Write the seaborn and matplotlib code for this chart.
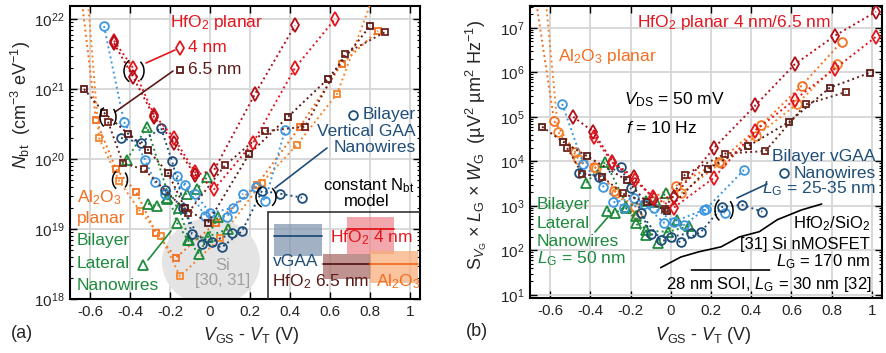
import numpy as np
import pandas as pd
import matplotlib
matplotlib.use("Agg")
import matplotlib.pyplot as plt
import seaborn as sns
from matplotlib.patches import Rectangle, Arc, Ellipse
from matplotlib.ticker import FixedLocator, LogLocator, NullFormatter, NullLocator

# ---------------- data ----------------
xtick_vals = [-0.6, -0.4, -0.2, 0, 0.2, 0.4, 0.6, 0.8, 1.0]
xtick_labels = ['-0.6', '-0.4', '-0.2', '0', '0.2', '0.4', '0.6', '0.8', '1']

# panel (a): Nbt (cm^-3 eV^-1) vs VGS-VT (V)
a_hf4_A_x = [-0.48, -0.385, -0.28, -0.18, -0.075, 0.02, 0.215, 0.425, 0.625]
a_hf4_A_y = [4.9e21, 2.0e21, 4.3e20, 2.0e20, 6.5e19, 3.7e19, 1.7e20, 2.0e21, 1.0e22]
a_hf4_B_x = [-0.48, -0.385, -0.28, -0.18, -0.075, 0.02, 0.225, 0.425]
a_hf4_B_y = [4.5e21, 1.5e21, 4.0e20, 1.7e20, 5.9e19, 6.9e19, 8.5e20, 8.1e21]
a_hf65_A_x = [-0.63, -0.53, -0.41, -0.31, -0.21, -0.125, -0.01, 0.195, 0.39, 0.59, 0.8]
a_hf65_A_y = [1.0e21, 4.6e20, 2.3e20, 1.35e20, 6.3e19, 2.0e19, 1.23e19, 1.17e20, 4.0e20, 1.4e21, 7.9e21]
a_hf65_B_x = [-0.51, -0.435, -0.33, -0.11, 0.075, 0.275, 0.475, 0.675, 0.875]
a_hf65_B_y = [3.4e20, 8.7e19, 7.1e19, 1.7e19, 8.1e19, 2.5e20, 2.9e20, 3.2e21, 6.5e21]
a_al_A_x = [-0.655, -0.57, -0.47, -0.37, -0.27, -0.17, 0.03, 0.235, 0.45, 0.66, 0.84]
a_al_A_y = [4.0e22, 3.6e20, 7.2e19, 3.4e19, 8.7e18, 3.9e18, 1.23e19, 4.3e19, 2.9e20, 2.3e21, 6.8e21]
a_al_B_x = [-0.62, -0.555, -0.455, -0.35, -0.245, -0.15, 0.05, 0.26, 0.435, 0.635, 0.84]
a_al_B_y = [4.0e22, 2.0e20, 4.9e19, 1.8e19, 7.9e18, 2.1e18, 7.4e18, 4.6e19, 1.6e20, 8.5e20, 3.2e22]
a_lat_A_x = [-0.415, -0.315, -0.165, -0.11, -0.055, 0.04]
a_lat_A_y = [9.8e19, 2.9e20, 1.23e19, 6.9e18, 4.4e18, 1.5e19]
a_lat_B_x = [-0.31, -0.265, -0.215, -0.115, -0.065, -0.015]
a_lat_B_y = [2.3e19, 2.1e19, 2.8e19, 3.2e19, 3.7e19, 5.5e19]
a_lat_C_x = [-0.215, -0.155, -0.105, -0.01, 0.09]
a_lat_C_y = [2.7e19, 2.0e19, 6.9e18, 7.8e18, 1.0e19]
a_vg_A_x = [-0.445, -0.345, -0.245, -0.19, -0.09, 0.01, 0.11]
a_vg_A_y = [2.0e20, 1.7e20, 2.8e20, 9.3e19, 8.5e18, 6.5e18, 8.7e18]
a_vg_B_x = [-0.225, -0.135, -0.04, 0.06, 0.16, 0.26, 0.35, 0.46]
a_vg_B_y = [3.6e19, 2.0e19, 6.2e18, 5.5e18, 9.3e18, 3.5e19, 3.2e19, 2.8e19]
a_lb_A_x = [-0.53, -0.43, -0.325, -0.275, -0.225, -0.125, -0.025, 0.085, 0.165]
a_lb_A_y = [7.9e21, 3.4e20, 9.8e19, 4.7e19, 3.2e19, 4.3e19, 1.55e19, 1.5e19, 3.2e19]
a_lb_B_x = [-0.165, -0.075, 0.0, 0.115, 0.23, 0.275, 0.375]
a_lb_B_y = [5.8e19, 3.2e19, 1.7e19, 2.0e19, 4.0e19, 2.5e19, 2.6e20]

# constant-Nbt model boxes (inset of panel a)
model_v_lo = [0.32, 0.685, 0.565, 0.80]
model_v_hi = [0.56, 0.92, 0.805, 1.04]
model_nbt = [7.9e18, 1.0e19, 3.2e18, 3.2e18]
model_nbt_lo = [4.1e18, 4.4e18, 1.9e18, 1.7e18]
model_nbt_hi = [1.17e19, 1.5e19, 4.4e18, 4.9e18]

# panel (b): S_VG*LG*WG (uV^2 um^2 Hz^-1)
b_hf4_A_x = [-0.485, -0.385, -0.29, -0.185, -0.085, 0.015, 0.215, 0.42, 0.615, 0.815, 1.02]
b_hf4_A_y = [1.0e5, 4.6e4, 9.8e3, 4.5e3, 1.45e3, 1.6e3, 2.0e4, 1.8e5, 1.5e6, 6.6e6, 2.3e7]
b_hf4_B_x = [-0.38, -0.29, -0.18, -0.09, 0.015, 0.215, 0.42, 0.615, 0.815, 1.02]
b_hf4_B_y = [3.5e4, 9.3e3, 3.8e3, 1.6e3, 9.1e2, 4.3e3, 4.9e4, 2.4e5, 1.2e6, 6.3e6]
b_hf65_A_x = [-0.64, -0.535, -0.415, -0.22, -0.12, -0.02, 0.185, 0.385, 0.59, 0.79, 0.99]
b_hf65_A_y = [6.0e4, 2.75e4, 1.3e4, 3.8e3, 1.2e3, 7.8e2, 6.8e3, 2.2e4, 7.8e4, 4.5e5, 9.8e5]
b_hf65_B_x = [-0.515, -0.44, -0.34, -0.24, -0.03, 0.07, 0.27, 0.47, 0.67, 0.87]
b_hf65_B_y = [2.0e4, 5.2e3, 4.5e3, 1.9e3, 8.5e2, 5.0e3, 1.5e4, 1.7e4, 1.9e5, 3.6e5]
b_al_A_x = [-0.7, -0.58, -0.475, -0.38, -0.28, -0.18, 0.025, 0.24, 0.45, 0.65, 0.85]
b_al_A_y = [3.2e8, 8.1e4, 1.6e4, 7.6e3, 2.2e3, 9.5e2, 2.8e3, 9.8e3, 6.6e4, 5.0e5, 4.9e6]
b_al_B_x = [-0.64, -0.56, -0.46, -0.37, -0.27, -0.17, 0.05, 0.25, 0.425, 0.625, 0.825]
b_al_B_y = [3.2e8, 4.6e4, 1.15e4, 7.1e3, 1.9e3, 6.3e2, 1.9e3, 9.3e3, 3.7e4, 1.9e5, 1.5e6]
b_lb_A_x = [-0.54, -0.435, -0.335, -0.235, -0.135, -0.035, 0.065, 0.165, 0.27]
b_lb_A_y = [1.95e5, 8.7e3, 2.7e3, 9.1e2, 1.1e3, 4.2e2, 3.7e2, 8.1e2, 6.9e2]
b_lb_B_x = [-0.285, -0.185, -0.085, 0.015, 0.175, 0.365]
b_lb_B_y = [1.2e3, 1.5e3, 9.1e2, 4.4e2, 8.5e2, 6.5e3]
b_vg_A_x = [-0.455, -0.355, -0.25, -0.2, -0.1, 0.0, 0.1]
b_vg_A_y = [5.5e3, 4.5e3, 7.6e3, 2.5e3, 2.3e2, 2.0e2, 2.5e2]
b_vg_B_x = [-0.15, -0.05, 0.05, 0.15, 0.255, 0.355, 0.455]
b_vg_B_y = [6.9e2, 1.7e2, 1.55e2, 2.6e2, 9.5e2, 1.05e3, 7.4e2]
b_lat_A_x = [-0.42, -0.325, -0.175, -0.125, -0.065, 0.03]
b_lat_A_y = [3.3e3, 9.8e3, 4.2e2, 2.2e2, 1.5e2, 4.9e2]
b_lat_B_x = [-0.315, -0.275, -0.225, -0.125, -0.075, -0.025]
b_lat_B_y = [7.8e2, 6.9e2, 9.5e2, 1.3e3, 1.2e3, 1.9e3]
b_lat_C_x = [-0.225, -0.175, -0.125, -0.015, 0.09]
b_lat_C_y = [8.9e2, 5.8e2, 2.8e2, 2.6e2, 3.5e2]
ref31_x = [-0.05, 0.05, 0.14, 0.25, 0.34, 0.44, 0.53, 0.65, 0.75]
ref31_y = [41, 71, 93, 120, 200, 263, 490, 810, 1100]
soi_x = [0.095, 0.5]
soi_y = [36, 36]

# ---------------- style ----------------
sns.set_theme(style="ticks")
plt.rcParams['font.family'] = ['Liberation Sans', 'DejaVu Sans']
plt.rcParams.update({
    'mathtext.fontset': 'custom',
    'mathtext.rm': 'Liberation Sans',
    'mathtext.it': 'Liberation Sans:italic',
    'mathtext.bf': 'Liberation Sans:bold',
    'mathtext.sf': 'Liberation Sans',
    'axes.unicode_minus': False,
})

RED = '#e3161e'
DRED = '#b0101a'
MAROON = '#5a1a18'
MAROON2 = '#6e241c'
ORANGE = '#f26f21'
ORANGE2 = '#f5852c'
GREEN = '#1e8a3c'
DBLUE = '#1f4e79'
LBLUE = '#3d96e0'

MS = {'o': 6.3, 's': 4.8, 'd': 6.8, '^': 6.8}

fig = plt.figure(figsize=(8.86, 3.53), dpi=100)
W, H = 886, 353
BOX_A = (70, 6, 420, 299)
BOX_B = (530, 6, 882, 298)


def make_ax(box):
    l, t, r, b = box
    return fig.add_axes([l / W, (H - b) / H, (r - l) / W, (b - t) / H])


axA = make_ax(BOX_A)
axB = make_ax(BOX_B)


def series(ax, x, y, color, marker):
    sns.lineplot(x=x, y=y, ax=ax, color=color, marker=marker, linestyle=':',
                 lw=1.4, sort=False, estimator=None, markersize=MS[marker],
                 markerfacecolor='none', markeredgecolor=color,
                 markeredgewidth=1.3, zorder=3)


def pfrac(box, px, py):
    l, t, r, b = box
    return ((px - l) / (r - l), (b - py) / (b - t))


def txt(ax, box, px, py, s, color, ha='left', size=12):
    fx, fy = pfrac(box, px, py)
    ax.text(fx, fy, s, color=color, ha=ha, va='center', fontsize=size,
            transform=ax.transAxes, zorder=7)


def key(ax, box, px, py, marker, color):
    fx, fy = pfrac(box, px, py)
    ax.plot([fx], [fy], marker=marker, ms=MS[marker], mfc='none', mec=color,
            mew=1.3, transform=ax.transAxes, clip_on=False, zorder=7)


def seg(ax, box, p1, p2, color):
    f1 = pfrac(box, *p1)
    f2 = pfrac(box, *p2)
    ax.plot([f1[0], f2[0]], [f1[1], f2[1]], color=color, lw=1.2,
            transform=ax.transAxes, zorder=6)


def paren(ax, box, px, py, wpx, hpx):
    l, t, r, b = box
    fx, fy = pfrac(box, px, py)
    w = wpx / (r - l)
    h = hpx / (b - t)
    for th1, th2 in [(110, 250), (-60, 60)]:
        ax.add_patch(Arc((fx, fy), w, h, theta1=th1, theta2=th2,
                         transform=ax.transAxes, color='black', lw=1.1, zorder=6))


def style_axis(ax, ylim, ymajors):
    ax.set_yscale('log')
    ax.set_xlim(-0.7, 1.05)
    ax.set_ylim(*ylim)
    ax.xaxis.set_major_locator(FixedLocator(xtick_vals))
    ax.set_xticklabels(xtick_labels)
    ax.xaxis.set_minor_locator(NullLocator())
    ax.yaxis.set_major_locator(FixedLocator(ymajors))
    ax.yaxis.set_minor_locator(LogLocator(base=10, subs=np.arange(2, 10), numticks=20))
    ax.yaxis.set_minor_formatter(NullFormatter())
    ax.grid(True, which='major', color='#d6d6d6', lw=1.3)
    ax.set_axisbelow(True)
    ax.tick_params(which='both', direction='in', top=True, right=True,
                   bottom=True, left=True, labelsize=11, color='black', pad=4)
    ax.tick_params(which='major', length=5, width=1.0)
    ax.tick_params(which='minor', length=2.5, width=0.8)
    for s in ax.spines.values():
        s.set_color('black')
        s.set_linewidth(1.5)
    ax.set_xlabel('')
    ax.set_ylabel('')


# ---------------- panel (a) ----------------
axA.set_xlim(-0.7, 1.05)
axA.add_patch(Ellipse(pfrac(BOX_A, 211, 262), 98 / 350, 88 / 293,
                      transform=axA.transAxes, color='#e4e4e4', zorder=1, lw=0))

series(axA, a_al_A_x, a_al_A_y, ORANGE, 's')
series(axA, a_al_B_x, a_al_B_y, ORANGE2, 's')
series(axA, a_lat_A_x, a_lat_A_y, GREEN, '^')
series(axA, a_lat_B_x, a_lat_B_y, GREEN, '^')
series(axA, a_lat_C_x, a_lat_C_y, GREEN, '^')
series(axA, a_lb_A_x, a_lb_A_y, LBLUE, 'o')
series(axA, a_lb_B_x, a_lb_B_y, LBLUE, 'o')
series(axA, a_vg_A_x, a_vg_A_y, DBLUE, 'o')
series(axA, a_vg_B_x, a_vg_B_y, DBLUE, 'o')
series(axA, a_hf65_A_x, a_hf65_A_y, MAROON, 's')
series(axA, a_hf65_B_x, a_hf65_B_y, MAROON2, 's')
series(axA, a_hf4_A_x, a_hf4_A_y, RED, 'd')
series(axA, a_hf4_B_x, a_hf4_B_y, DRED, 'd')

style_axis(axA, (1e18, 10 ** 22.186), [1e18, 1e19, 1e20, 1e21, 1e22])

# constant Nbt model boxes
box_fill = ['#7e95ae', '#ee868c', '#a86a66', '#f7ad78']
box_line = [DBLUE, RED, MAROON, ORANGE]
for lo, hi, c, b0, b1, fc, lc in zip(model_v_lo, model_v_hi, model_nbt,
                                      model_nbt_lo, model_nbt_hi, box_fill, box_line):
    axA.add_patch(Rectangle((lo, b0), hi - lo, b1 - b0, facecolor=fc,
                            edgecolor='none', alpha=0.72, zorder=4))
    axA.plot([lo, hi], [c, c], color=lc, lw=1.3, zorder=5)

seg(axA, BOX_A, (268, 212), (420, 212), '#333333')
seg(axA, BOX_A, (268, 212), (268, 299), '#333333')

txt(axA, BOX_A, 170, 23, 'HfO$_2$ planar', RED, size=12.5)
key(axA, BOX_A, 180, 48, 'd', RED)
txt(axA, BOX_A, 188, 47, '4 nm', RED, size=12.5)
key(axA, BOX_A, 180, 70, 's', MAROON)
txt(axA, BOX_A, 188, 69, '6.5 nm', MAROON, size=12.5)
seg(axA, BOX_A, (146, 63), (175, 50), RED)
seg(axA, BOX_A, (115, 112), (173, 71), MAROON)
paren(axA, BOX_A, 134, 71, 20, 24)
paren(axA, BOX_A, 108, 117, 16, 22)
paren(axA, BOX_A, 120, 180, 15, 20)

txt(axA, BOX_A, 77, 198, 'Al$_2$O$_3$', ORANGE, size=12.5)
txt(axA, BOX_A, 77, 218, 'planar', ORANGE, size=12.5)

txt(axA, BOX_A, 77, 241, 'Bilayer', GREEN, size=12.5)
txt(axA, BOX_A, 77, 263, 'Lateral', GREEN, size=12.5)
txt(axA, BOX_A, 77, 285, 'Nanowires', GREEN, size=12.5)
key(axA, BOX_A, 143, 265, '^', GREEN)
seg(axA, BOX_A, (148, 260), (171, 231), GREEN)

txt(axA, BOX_A, 223, 265, 'Si', '#a0a0a0', ha='center', size=12)
txt(axA, BOX_A, 223, 281, '[30, 31]', '#a0a0a0', ha='center', size=12)

key(axA, BOX_A, 353, 115, 'o', DBLUE)
txt(axA, BOX_A, 416, 115, 'Bilayer', DBLUE, ha='right', size=12.5)
txt(axA, BOX_A, 416, 132, 'Vertical GAA', DBLUE, ha='right', size=12.5)
txt(axA, BOX_A, 416, 147, 'Nanowires', DBLUE, ha='right', size=12.5)
seg(axA, BOX_A, (327, 148), (275, 188), DBLUE)
paren(axA, BOX_A, 266, 197, 20, 22)

txt(axA, BOX_A, 414, 186, 'constant N$_{\\rm bt}$', 'black', ha='right', size=12)
txt(axA, BOX_A, 367, 202, 'model', 'black', ha='center', size=12)
txt(axA, BOX_A, 330, 238, 'HfO$_2$ 4 nm', RED, size=12.5)
txt(axA, BOX_A, 273, 262, 'vGAA', DBLUE, size=12.5)
txt(axA, BOX_A, 272, 282, 'HfO$_2$ 6.5 nm', MAROON, size=12.5)
txt(axA, BOX_A, 376, 282, 'Al$_2$O$_3$', ORANGE, size=12.5)

# ---------------- panel (b) ----------------
series(axB, b_al_A_x, b_al_A_y, ORANGE, 'o')
series(axB, b_al_B_x, b_al_B_y, ORANGE2, 'o')
series(axB, b_lat_A_x, b_lat_A_y, GREEN, '^')
series(axB, b_lat_B_x, b_lat_B_y, GREEN, '^')
series(axB, b_lat_C_x, b_lat_C_y, GREEN, '^')
series(axB, b_lb_A_x, b_lb_A_y, LBLUE, 'o')
series(axB, b_lb_B_x, b_lb_B_y, LBLUE, 'o')
series(axB, b_vg_A_x, b_vg_A_y, DBLUE, 'o')
series(axB, b_vg_B_x, b_vg_B_y, DBLUE, 'o')
series(axB, b_hf65_A_x, b_hf65_A_y, MAROON, 's')
series(axB, b_hf65_B_x, b_hf65_B_y, MAROON2, 's')
series(axB, b_hf4_A_x, b_hf4_A_y, DRED, 'd')
series(axB, b_hf4_B_x, b_hf4_B_y, RED, 'd')
sns.lineplot(x=ref31_x, y=ref31_y, ax=axB, color='black', lw=1.2,
             sort=False, estimator=None, zorder=3)
sns.lineplot(x=soi_x, y=soi_y, ax=axB, color='black', lw=1.2, marker='|',
             markersize=7, markeredgewidth=1.2, sort=False, estimator=None, zorder=3)

style_axis(axB, (10 ** 0.93, 10 ** 7.49), [1e1, 1e2, 1e3, 1e4, 1e5, 1e6, 1e7])

txt(axB, BOX_B, 637, 23, 'HfO$_2$ planar 4 nm/6.5 nm', RED, size=12.5)
txt(axB, BOX_B, 558, 57, 'Al$_2$O$_3$ planar', ORANGE, size=12.5)
txt(axB, BOX_B, 624, 100, '$V_{\\rm DS}$ = 50 mV', 'black', size=12.5)
txt(axB, BOX_B, 626, 128, '$f$ = 10 Hz', 'black', size=12.5)
txt(axB, BOX_B, 876, 157, 'Bilayer vGAA', DBLUE, ha='right', size=12.5)
key(axB, BOX_B, 784, 173, 'o', DBLUE)
txt(axB, BOX_B, 876, 173, 'Nanowires', DBLUE, ha='right', size=12.5)
txt(axB, BOX_B, 876, 189, '$L_{\\rm G}$ = 25-35 nm', DBLUE, ha='right', size=12.5)
seg(axB, BOX_B, (737, 198), (767, 184), DBLUE)
paren(axB, BOX_B, 724, 210, 18, 24)

txt(axB, BOX_B, 537, 205, 'Bilayer', GREEN, size=12.5)
txt(axB, BOX_B, 537, 224, 'Lateral', GREEN, size=12.5)
txt(axB, BOX_B, 537, 241, 'Nanowires', GREEN, size=12.5)
txt(axB, BOX_B, 537, 259, '$L_{\\rm G}$ = 50 nm', GREEN, size=12.5)
seg(axB, BOX_B, (595, 232), (608, 217), GREEN)

txt(axB, BOX_B, 870, 224, 'HfO$_2$/SiO$_2$', 'black', ha='right', size=12)
txt(axB, BOX_B, 870, 244, '[31] Si nMOSFET', 'black', ha='right', size=12)
txt(axB, BOX_B, 870, 262, '$L_{\\rm G}$ = 170 nm', 'black', ha='right', size=12)
txt(axB, BOX_B, 872, 285, '28 nm SOI, $L_{\\rm G}$ = 30 nm [32]', 'black', ha='right', size=12)

# ---------------- labels ----------------
fig.text(21 / W, 1 - 105 / H, '$N_{\\rm bt}$  (cm$^{-3}$ eV$^{-1}$)', rotation=90,
         ha='center', va='center', fontsize=13)
fig.text(476 / W, 1 - 145 / H,
         'S$_{V_{\\rm G}}$ × $L_{\\rm G}$ × $W_{\\rm G}$  (µV$^2$ µm$^2$ Hz$^{-1}$)',
         rotation=90, ha='center', va='center', fontsize=13)
fig.text(251 / W, 1 - 336 / H, '$V_{\\rm GS}$ - $V_{\\rm T}$ (V)', ha='center',
         va='center', fontsize=13)
fig.text(703 / W, 1 - 336 / H, '$V_{\\rm GS}$ - $V_{\\rm T}$ (V)', ha='center',
         va='center', fontsize=13)
fig.text(22 / W, 1 - 333 / H, '(a)', ha='center', va='center', fontsize=13)
fig.text(477 / W, 1 - 332 / H, '(b)', ha='center', va='center', fontsize=13)

fig.savefig('out.png', dpi=100)
